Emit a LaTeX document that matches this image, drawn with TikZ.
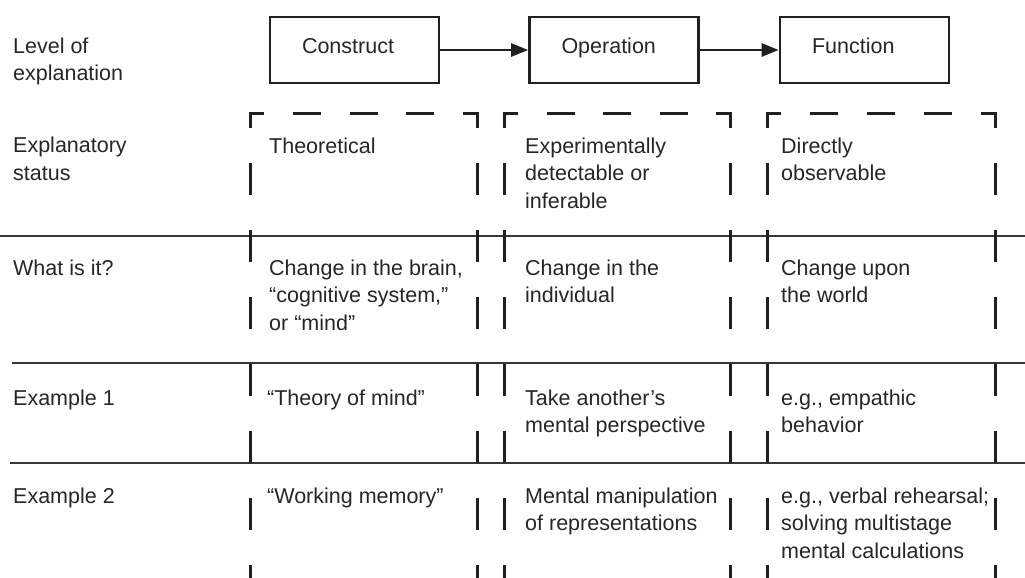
\documentclass[tikz,border=0pt]{standalone}
\usepackage{fontspec}
\setmainfont{Liberation Sans}
\usetikzlibrary{arrows.meta}

\definecolor{ink}{RGB}{35,31,32}
\definecolor{txt}{RGB}{38,38,40}
\definecolor{rulegray}{RGB}{55,55,58}

\tikzset{
  levelbox/.style={draw=ink, line width=2.6pt, minimum width=169pt, minimum height=66pt,
    inner xsep=32pt, text width=105pt, align=left, text height=15.5pt, text depth=9pt,
    font=\fontsize{21.5}{27.5}\selectfont, text=txt},
  flow/.style={draw=ink, line width=2.6pt, -{Triangle[length=17pt,width=13pt]}},
  % anchored on the baseline of the last line of the cell
  cell/.style={anchor=base west, inner sep=0pt, align=left,
    font=\fontsize{21.5}{27.5}\selectfont, text=txt},
  dashline/.style={draw=ink, line width=3pt, line join=miter},
  rowrule/.style={draw=rulegray, line width=1.3pt},
}

\begin{document}
\begin{tikzpicture}[x=1pt, y=-1pt]
\useasboundingbox (0,0) rectangle (1025,578);
\clip (0,0) rectangle (1025,578);

% row separators
\draw[rowrule] (0,236) -- (1025,236);
\draw[rowrule] (12,363) -- (1025,363);
\draw[rowrule] (10,463) -- (1025,463);

% dashed column frames, open at the bottom
\foreach \l/\r in {250/477, 504/730, 767/995} {
  \pgfmathsetmacro{\gap}{(\r-\l-28-84)/4}
  \draw[dashline] (\l,128) -- (\l,113) -- ({\l+14},113);
  \draw[dashline] ({\r-14},113) -- (\r,113) -- (\r,128);
  \foreach \k in {0,1,2}
    \draw[dashline] ({\l+14+\gap+\k*(28+\gap)},113) -- ++(28,0);
  \foreach \k in {0,...,6} {
    \draw[dashline] (\l,{163+67*\k}) -- ++(0,32);
    \draw[dashline] (\r,{163+67*\k}) -- ++(0,32);
  }
}

% levels of explanation
\node[levelbox] (construct) at (354.5,50) {Construct};
\node[levelbox] (operation) at (614,50) {Operation};
\node[levelbox] (function) at (864.5,50) {Function};
\draw[flow] (construct) -- (operation);
\draw[flow] (operation) -- (function);

% row headings
\node[cell] (hlevel) at (13,80.5) {Level of\\explanation};
\node[cell] (hstatus) at (13,180) {Explanatory\\status};
\node[cell] (hwhat) at (13,275) {What is it?};
\node[cell] (hex1) at (13,405) {Example 1};
\node[cell] (hex2) at (13,503) {Example 2};

% construct column
\node[cell] (c1) at (269,153) {Theoretical};
\node[cell] (c2) at (269,330) {Change in the brain,\\“cognitive system,”\\or “mind”};
\node[cell] (c3) at (267,405) {“Theory of mind”};
\node[cell] (c4) at (267,503) {“Working memory”};

% operation column
\node[cell] (o1) at (525,208) {Experimentally\\detectable or\\inferable};
\node[cell] (o2) at (525,302.5) {Change in the\\individual};
\node[cell] (o3) at (525,432.5) {Take another’s\\mental perspective};
\node[cell] (o4) at (525,530.5) {Mental manipulation\\of representations};

% function column
\node[cell] (f1) at (781,180.5) {Directly\\observable};
\node[cell] (f2) at (781,302.5) {Change upon\\the world};
\node[cell] (f3) at (781,432.5) {e.g., empathic\\behavior};
\node[cell] (f4) at (781,558) {e.g., verbal rehearsal;\\solving multistage\\mental calculations};
\end{tikzpicture}
\end{document}
